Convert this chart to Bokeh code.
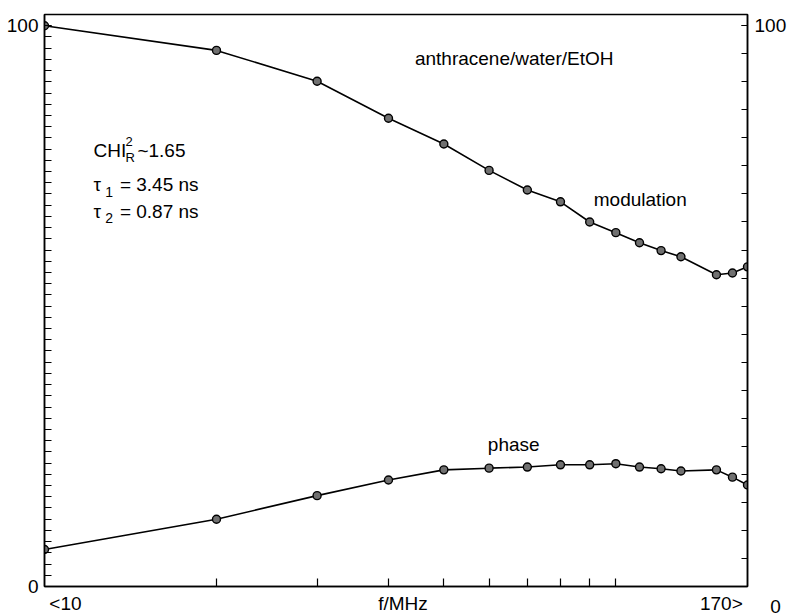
from bokeh.plotting import figure
from bokeh.models import FixedTicker, LinearAxis, Label, Range1d
from bokeh.embed import file_html
from bokeh.resources import INLINE

# ---- data ----
freq_mhz = [10, 20, 30, 40, 50, 60, 70, 80, 90, 100, 110, 120, 130, 150, 160, 170]
modulation = [100.0, 95.6, 90.1, 83.5, 78.9, 74.2, 70.7, 68.6, 65.0, 63.1, 61.3, 59.9, 58.8, 55.6, 55.9, 57.0]
phase = [6.6, 12.0, 16.2, 19.0, 20.8, 21.1, 21.3, 21.7, 21.7, 21.9, 21.3, 21.0, 20.6, 20.8, 19.5, 18.1]
bottom_ticks = [20, 30, 40, 50, 60, 70, 80, 90, 100]
bottom_label_pos = [10.88, 42.4, 153.0]
bottom_label_text = ["<10", "f/MHz", "170>"]
left_minor = list(range(0, 101, 2))
right_minor = list(range(0, 101, 5))

FONT = "Liberation Sans"

p = figure(width=789, height=616, x_axis_type="log",
           x_range=Range1d(10, 170), y_range=Range1d(0, 102),
           output_backend="svg", toolbar_location=None,
           min_border_left=44, min_border_right=41,
           min_border_top=14, min_border_bottom=28)
p.grid.visible = False
p.outline_line_color = "black"
p.outline_line_width = 1.5
p.background_fill_color = "white"
p.border_fill_color = "white"

# bottom axis (log): real ticks as inward minor ticks, labels on invisible major ticks
xa = p.xaxis[0]
xa.ticker = FixedTicker(ticks=bottom_label_pos, minor_ticks=bottom_ticks)
xa.major_label_overrides = dict(zip(bottom_label_pos, bottom_label_text))
xa.major_tick_line_color = None
xa.major_tick_in = 0
xa.major_tick_out = 0
xa.minor_tick_in = 8
xa.minor_tick_out = 0
xa.minor_tick_line_width = 1.2
xa.axis_line_width = 1.5
xa.major_label_text_font = FONT
xa.major_label_text_font_size = "19px"
xa.major_label_text_color = "black"
xa.major_label_standoff = 6

# left axis
ya = p.yaxis[0]
ya.ticker = FixedTicker(ticks=[0, 100], minor_ticks=left_minor)
ya.major_tick_in = 7
ya.major_tick_out = 0
ya.minor_tick_in = 7
ya.minor_tick_out = 0
ya.axis_line_width = 1.5
ya.major_tick_line_width = 1.2
ya.minor_tick_line_width = 1.2
ya.major_label_text_font = FONT
ya.major_label_text_font_size = "19px"
ya.major_label_text_color = "black"
ya.major_label_standoff = 6

# right axis ("0" sits below-right of the corner: empty first line + non-breaking spaces)
ra = LinearAxis(ticker=FixedTicker(ticks=[0, 100], minor_ticks=right_minor))
ra.major_label_overrides = {0: "\n\u00a0\u00a0\u00a00", 100: "100"}
ra.major_label_text_line_height = 1.9
ra.major_tick_in = 6
ra.major_tick_out = 0
ra.minor_tick_in = 6
ra.minor_tick_out = 0
ra.axis_line_width = 1.5
ra.major_tick_line_width = 1.2
ra.minor_tick_line_width = 1.2
ra.major_label_text_font = FONT
ra.major_label_text_font_size = "19px"
ra.major_label_text_color = "black"
ra.major_label_standoff = 7
p.add_layout(ra, "right")

# curves
for ys in (modulation, phase):
    p.line(freq_mhz, ys, line_color="black", line_width=1.6)
    p.scatter(freq_mhz, ys, size=8, fill_color="#707070", line_color="black", line_width=1.4)


def lab(x, y, t, size="19px", align="left"):
    p.add_layout(Label(x=x, y=y, text=t, text_font=FONT, text_font_size=size,
                       text_color="black", text_align=align, text_baseline="middle"))


lab(44.5, 94.2, "anthracene/water/EtOH")
lab(91.5, 69.0, "modulation")
lab(59.7, 25.4, "phase")

# CHI_R^2 ~ 1.65
lab(12.18, 77.8, "CHI")
lab(13.86, 79.4, "2", "13px")
lab(13.86, 76.5, "R", "13px")
lab(14.54, 77.8, "~1.65")
# tau_1
lab(12.18, 71.6, "\u03c4")
lab(12.78, 70.4, "1", "14px")
lab(13.55, 71.6, "= 3.45 ns")
# tau_2
lab(12.18, 66.9, "\u03c4")
lab(12.78, 65.7, "2", "14px")
lab(13.55, 66.9, "= 0.87 ns")

open("out.html", "w").write(file_html(p, INLINE))
